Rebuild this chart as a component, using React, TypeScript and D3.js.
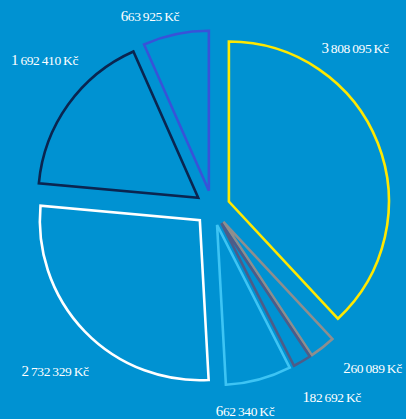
import * as d3 from 'd3';
import { useRef, useEffect } from 'react';

// slice values in CZK, clockwise from 12 o'clock
const amounts = [3808095, 260089, 182692, 662340, 2732329, 1692410, 663925];
const strokeColors = ['#ffe800', '#8e8e8e', '#4d5c88', '#3dc4f4', '#ffffff', '#0a2550', '#3853d8'];

// where each label sits: angle (deg, clockwise from top) and distance from pie centre
const labelAngles = [42.6, 135.8, 148.4, 171.1, 223.2, 310.4, 341.5];
const labelRadii = [210.5, 229.6, 227.4, 210.5, 230, 220.6, 197.2];

const App = () => {
  const ref = useRef<SVGSVGElement>(null);
  const width = 406;
  const height = 419;
  const cx = 212.5;
  const cy = 208;
  const radius = 160;
  const explode = 17.6;

  useEffect(() => {
    const svg = d3.select(ref.current);
    svg.selectAll('*').remove();

    svg
      .append('rect')
      .attr('width', width)
      .attr('height', height)
      .attr('fill', '#0092d2');

    const g = svg.append('g').attr('transform', `translate(${cx},${cy})`);

    const pie = d3
      .pie<number>()
      .sort(null)
      .value((d) => d);
    const arcs = pie(amounts);

    const arc = d3.arc<d3.PieArcDatum<number>>().innerRadius(0).outerRadius(radius);

    g.selectAll('path.slice')
      .data(arcs)
      .join('path')
      .attr('class', 'slice')
      .attr('transform', (d) => {
        const [x, y] = d3.pointRadial((d.startAngle + d.endAngle) / 2, explode);
        return `translate(${x},${y})`;
      })
      .attr('d', arc as any)
      .attr('fill', 'none')
      .attr('stroke', (_, i) => strokeColors[i])
      .attr('stroke-width', 2.6)
      .attr('stroke-linejoin', 'miter');

    const fmt = d3.formatLocale({
      decimal: ',',
      thousands: '\u2009',
      grouping: [3],
      currency: ['', ' Kč'],
    }).format(',');

    const labels = g
      .selectAll('text.label')
      .data(arcs)
      .join('text')
      .attr('class', 'label')
      .attr('x', (_, i) => d3.pointRadial((labelAngles[i] * Math.PI) / 180, labelRadii[i])[0])
      .attr('y', (_, i) => d3.pointRadial((labelAngles[i] * Math.PI) / 180, labelRadii[i])[1])
      .attr('text-anchor', 'middle')
      .attr('fill', '#ffffff')
      .style('font-family', '"Liberation Serif", serif')
      .style('font-size', '13.5px')
      .style('letter-spacing', '-0.4px');

    labels.each(function (d) {
      const s = fmt(d.data) + '\u2009Kč';
      const t = d3.select(this);
      t.append('tspan').style('font-size', '15px').text(s.slice(0, 1));
      t.append('tspan').text(s.slice(1));
    });
  }, []);

  return (
    <svg
      ref={ref}
      width={width}
      height={height}
      style={{ position: 'absolute', left: 0, top: 0, display: 'block' }}
    />
  );
};

export default App;
